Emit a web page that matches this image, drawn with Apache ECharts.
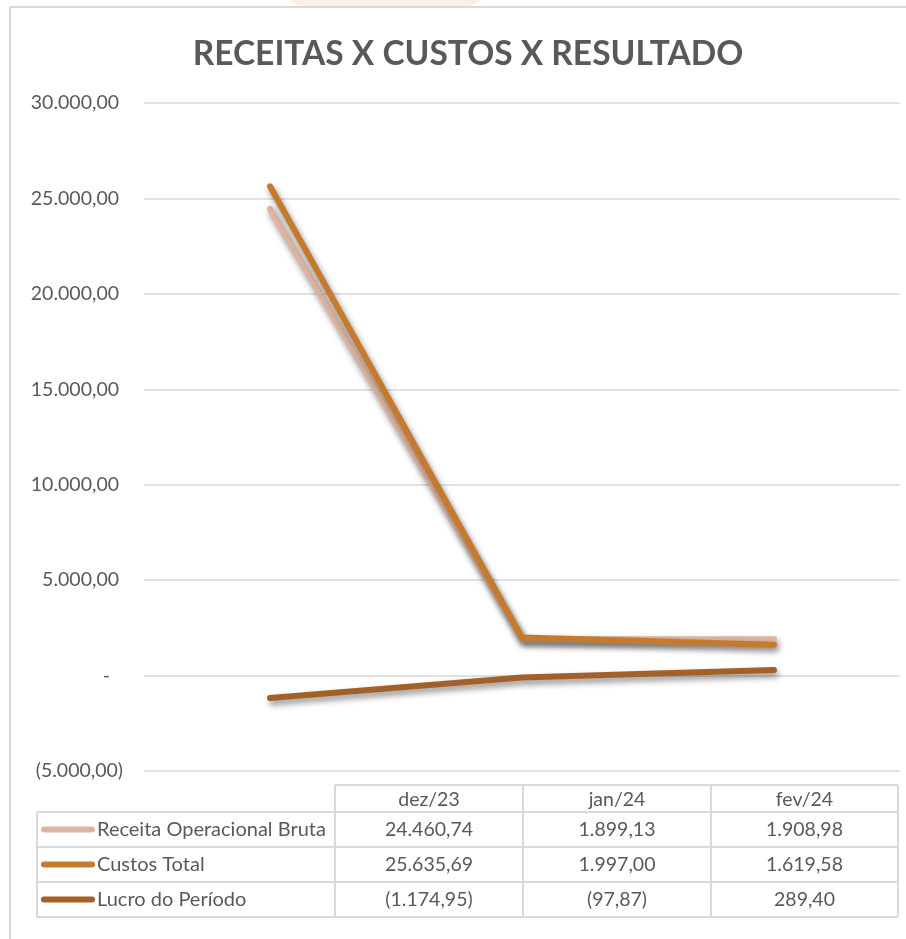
<!DOCTYPE html>
<html>
<head>
<meta charset="utf-8">
<script src="https://cdn.jsdelivr.net/npm/echarts@6/dist/echarts.min.js"></script>
<style>
html,body{margin:0;padding:0;background:#fff;}
#chart{width:906px;height:939px;}
</style>
</head>
<body>
<div id="chart"></div>
<script>
// ---- data ----
var categories = ['dez/23', 'jan/24', 'fev/24'];
var seriesNames = ['Receita Operacional Bruta', 'Custos Total', 'Lucro do Período'];
var receita = [24460.74, 1899.13, 1908.98];
var custos = [25635.69, 1997.00, 1619.58];
var lucro = [-1174.95, -97.87, 289.40];
var seriesColors = ['#DCB4A1', '#C67A2E', '#A3612A'];
var yMin = -5000, yMax = 30000, yStep = 5000;

var FONT = 'Lato';
var GRAY = '#595959';
var BORDER = '#d9d9d9';

function fmtNum(v) {
  var neg = v < 0; v = Math.abs(v);
  var fixed = v.toFixed(2).split('.');
  var intPart = fixed[0].replace(/\B(?=(\d{3})+(?!\d))/g, '.');
  var s = intPart + ',' + fixed[1];
  return neg ? '(' + s + ')' : s;
}

var allSeries = [receita, custos, lucro];

var chart = echarts.init(document.getElementById('chart'));

// table graphics
var colEdges = [335, 523, 711, 898];
var tableLeft = 37;
var rowEdges = [785, 812, 847, 882, 917];
var g = [];
function hline(x1, x2, y) {
  g.push({type: 'line', shape: {x1: x1, y1: y, x2: x2, y2: y}, style: {stroke: BORDER, lineWidth: 2}, z: 1});
}
function vline(x, y1, y2) {
  g.push({type: 'line', shape: {x1: x, y1: y1, x2: x, y2: y2}, style: {stroke: BORDER, lineWidth: 2}, z: 1});
}
// frame + watermark
g.push({type: 'polygon', shape: {points: [[290, 0], [480, 0], [470, 7], [300, 7]]}, style: {fill: '#f9efe8'}, z: 0});
hline(10, 906, 7);
vline(10, 7, 939);
// table lines
hline(colEdges[0], colEdges[3], rowEdges[0]);
for (var r = 1; r < rowEdges.length; r++) hline(tableLeft, colEdges[3], rowEdges[r]);
vline(tableLeft, rowEdges[1], rowEdges[4]);
for (var c = 0; c < colEdges.length; c++) vline(colEdges[c], rowEdges[0], rowEdges[4]);
// header
categories.forEach(function (cat, i) {
  g.push({type: 'text', x: (colEdges[i] + colEdges[i + 1]) / 2, y: (rowEdges[0] + rowEdges[1]) / 2 + 1,
    style: {text: cat, fill: GRAY, font: '19.5px ' + FONT, textAlign: 'center', textVerticalAlign: 'middle'}, z: 2});
});
// rows
seriesNames.forEach(function (name, si) {
  var cy = (rowEdges[si + 1] + rowEdges[si + 2]) / 2;
  g.push({type: 'line', shape: {x1: 44, y1: cy, x2: 92, y2: cy},
    style: {stroke: seriesColors[si], lineWidth: 6, lineCap: 'round'}, z: 2});
  g.push({type: 'text', x: 97, y: cy,
    style: {text: name, fill: GRAY, font: '20px ' + FONT, textAlign: 'left', textVerticalAlign: 'middle'}, z: 2});
  allSeries[si].forEach(function (v, ci) {
    g.push({type: 'text', x: (colEdges[ci] + colEdges[ci + 1]) / 2, y: cy,
      style: {text: fmtNum(v), fill: GRAY, font: '19.5px ' + FONT, textAlign: 'center', textVerticalAlign: 'middle'}, z: 2});
  });
});
// title
g.push({type: 'text', x: 468, y: 54,
  style: {text: 'RECEITAS X CUSTOS X RESULTADO', fill: GRAY, font: 'bold 33.5px ' + FONT, textAlign: 'center', textVerticalAlign: 'middle'}, z: 2});

function lineSeries(idx, data) {
  return {
    type: 'line', name: seriesNames[idx], data: data,
    showSymbol: false, symbol: 'none', silent: true,
    z: 3 + idx,
    lineStyle: {color: seriesColors[idx], width: 6, cap: 'round', join: 'miter',
      shadowColor: 'rgba(0,0,0,0.45)', shadowBlur: 6, shadowOffsetX: 2, shadowOffsetY: 4},
    itemStyle: {color: seriesColors[idx]}
  };
}

chart.setOption({
  animation: false,
  backgroundColor: '#fff',
  grid: {left: 144, right: 6, top: 103, height: 668, containLabel: false},
  xAxis: {type: 'category', data: categories, boundaryGap: true,
    axisLine: {show: false}, axisTick: {show: false}, axisLabel: {show: false}},
  yAxis: {type: 'value', min: yMin, max: yMax, interval: yStep,
    axisLine: {show: false}, axisTick: {show: false},
    splitLine: {lineStyle: {color: BORDER, width: 1.5}},
    axisLabel: {margin: 21, color: GRAY, fontFamily: FONT, fontSize: 19.5,
      formatter: function (v) {
        if (v === 0) return '{z|-}';
        if (v < 0) return '{n|' + fmtNum(v) + '}';
        return '{p|' + fmtNum(v) + '}';
      },
      rich: {
        z: {color: GRAY, fontFamily: FONT, fontSize: 19.5, padding: [0, 13, 0, 0]},
        n: {color: GRAY, fontFamily: FONT, fontSize: 19.5, padding: [0, 0, 0, 0]},
        p: {color: GRAY, fontFamily: FONT, fontSize: 19.5, padding: [0, 4, 0, 0]}
      }
    }},
  graphic: g,
  series: [lineSeries(0, receita), lineSeries(1, custos), lineSeries(2, lucro)]
});
</script>
</body>
</html>
